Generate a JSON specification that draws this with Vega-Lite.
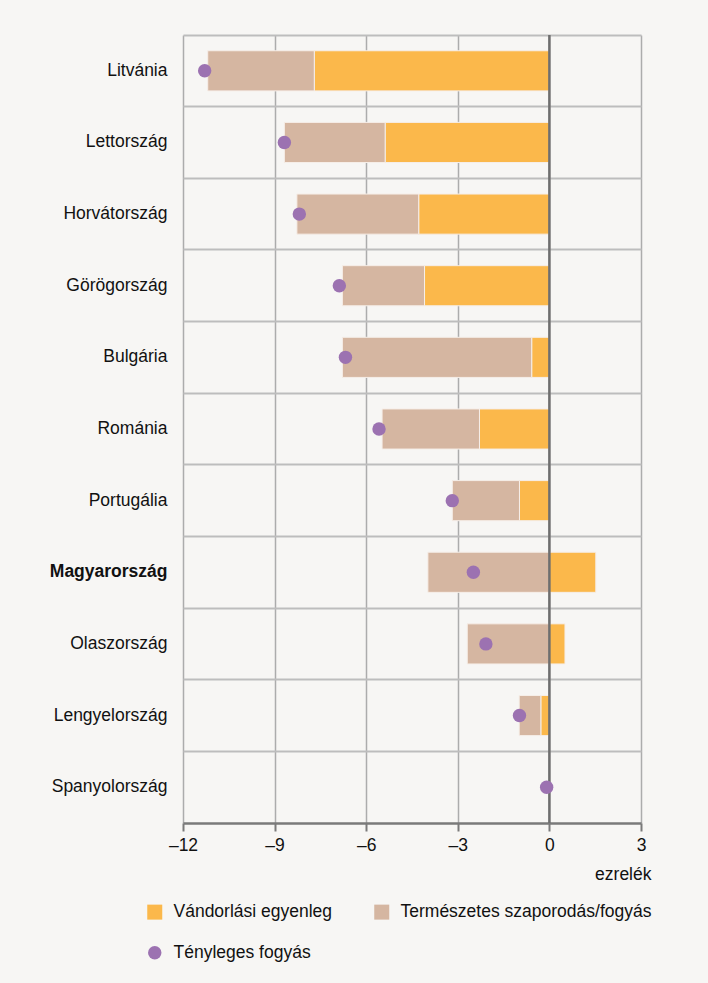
{
  "$schema": "https://vega.github.io/schema/vega-lite/v6.json",
  "width": 458,
  "height": 788,
  "autosize": {"type": "none"},
  "padding": {"left": 183, "top": 35, "right": 67, "bottom": 160},
  "background": "#f7f6f4",
  "config": {
    "view": {"stroke": null},
    "font": "Liberation Sans",
    "text": {"font": "Liberation Sans"}
  },
  "datasets": {
    "bars": [
      {"country": "Litvánia", "type": "Vándorlási egyenleg", "ord": 1, "value": -7.70},
      {"country": "Litvánia", "type": "Természetes szaporodás/fogyás", "ord": 2, "value": -3.49},
      {"country": "Lettország", "type": "Vándorlási egyenleg", "ord": 1, "value": -5.38},
      {"country": "Lettország", "type": "Természetes szaporodás/fogyás", "ord": 2, "value": -3.30},
      {"country": "Horvátország", "type": "Vándorlási egyenleg", "ord": 1, "value": -4.28},
      {"country": "Horvátország", "type": "Természetes szaporodás/fogyás", "ord": 2, "value": -3.99},
      {"country": "Görögország", "type": "Vándorlási egyenleg", "ord": 1, "value": -4.09},
      {"country": "Görögország", "type": "Természetes szaporodás/fogyás", "ord": 2, "value": -2.69},
      {"country": "Bulgária", "type": "Vándorlási egyenleg", "ord": 1, "value": -0.58},
      {"country": "Bulgária", "type": "Természetes szaporodás/fogyás", "ord": 2, "value": -6.20},
      {"country": "Románia", "type": "Vándorlási egyenleg", "ord": 1, "value": -2.29},
      {"country": "Románia", "type": "Természetes szaporodás/fogyás", "ord": 2, "value": -3.19},
      {"country": "Portugália", "type": "Vándorlási egyenleg", "ord": 1, "value": -0.98},
      {"country": "Portugália", "type": "Természetes szaporodás/fogyás", "ord": 2, "value": -2.20},
      {"country": "Magyarország", "type": "Vándorlási egyenleg", "ord": 1, "value": 1.52},
      {"country": "Magyarország", "type": "Természetes szaporodás/fogyás", "ord": 2, "value": -3.98},
      {"country": "Olaszország", "type": "Vándorlási egyenleg", "ord": 1, "value": 0.51},
      {"country": "Olaszország", "type": "Természetes szaporodás/fogyás", "ord": 2, "value": -2.69},
      {"country": "Lengyelország", "type": "Vándorlási egyenleg", "ord": 1, "value": -0.28},
      {"country": "Lengyelország", "type": "Természetes szaporodás/fogyás", "ord": 2, "value": -0.71}
    ],
    "dots": [
      {"country": "Litvánia", "type": "Tényleges fogyás", "value": -11.29},
      {"country": "Lettország", "type": "Tényleges fogyás", "value": -8.68},
      {"country": "Horvátország", "type": "Tényleges fogyás", "value": -8.19},
      {"country": "Görögország", "type": "Tényleges fogyás", "value": -6.88},
      {"country": "Bulgária", "type": "Tényleges fogyás", "value": -6.68},
      {"country": "Románia", "type": "Tényleges fogyás", "value": -5.58},
      {"country": "Portugália", "type": "Tényleges fogyás", "value": -3.18},
      {"country": "Magyarország", "type": "Tényleges fogyás", "value": -2.49},
      {"country": "Olaszország", "type": "Tényleges fogyás", "value": -2.08},
      {"country": "Lengyelország", "type": "Tényleges fogyás", "value": -0.98},
      {"country": "Spanyolország", "type": "Tényleges fogyás", "value": -0.09}
    ]
  },
  "layer": [
    {
      "data": {"name": "bars"},
      "mark": {"type": "bar", "height": {"band": 0.56}, "stroke": "#f6eee8", "strokeWidth": 1},
      "encoding": {
        "y": {
          "field": "country",
          "type": "nominal",
          "sort": null,
          "scale": {
            "domain": ["Litvánia", "Lettország", "Horvátország", "Görögország", "Bulgária", "Románia", "Portugália", "Magyarország", "Olaszország", "Lengyelország", "Spanyolország"],
            "paddingInner": 0,
            "paddingOuter": 0
          },
          "axis": {
            "title": null,
            "domain": false,
            "ticks": false,
            "grid": true,
            "gridColor": "#bdbdbd",
            "gridWidth": 2,
            "bandPosition": 0,
            "labelPadding": 16,
            "labelFontSize": 17.5,
            "labelColor": "#111111",
            "labelFont": "Liberation Sans",
            "labelFontWeight": {"condition": {"test": "datum.label === 'Magyarország'", "value": "bold"}, "value": "normal"}
          }
        },
        "x": {
          "field": "value",
          "type": "quantitative",
          "stack": "zero",
          "scale": {"domain": [-12, 3], "nice": false, "zero": false},
          "axis": {
            "values": [-12, -9, -6, -3, 0, 3],
            "grid": true,
            "gridColor": "#acacac",
            "gridWidth": 1.5,
            "domainColor": "#7a7a7a",
            "domainWidth": 2.5,
            "tickColor": "#7a7a7a",
            "tickWidth": 2,
            "tickSize": 8,
            "labelFontSize": 17.5,
            "labelFont": "Liberation Sans",
            "labelColor": "#111111",
            "labelPadding": 5,
            "labelFlush": false,
            "labelExpr": "datum.value < 0 ? '–' + abs(datum.value) : '' + datum.value",
            "title": "ezrelék",
            "titleFont": "Liberation Sans",
            "titleFontSize": 17.5,
            "titleFontWeight": "normal",
            "titleColor": "#111111",
            "titleAnchor": "end",
            "titleAlign": "right",
            "titleX": 468,
            "titleY": 56,
            "titleBaseline": "alphabetic"
          }
        },
        "color": {
          "field": "type",
          "type": "nominal",
          "scale": {
            "domain": ["Vándorlási egyenleg", "Természetes szaporodás/fogyás"],
            "range": ["#fbb84b", "#d5b6a1"]
          },
          "legend": {
            "title": null,
            "orient": "none",
            "legendX": -37,
            "legendY": 868,
            "columns": 2,
            "direction": "horizontal",
            "padding": 0,
            "columnPadding": 40,
            "labelFontSize": 17.5,
            "labelFont": "Liberation Sans",
            "labelColor": "#111111",
            "labelOffset": 10,
            "labelLimit": 400,
            "symbolType": "square",
            "symbolSize": 225,
            "symbolStrokeWidth": 0,
            "symbolOpacity": 1
          }
        },
        "order": {"field": "ord", "type": "quantitative"}
      }
    },
    {
      "data": {"values": [{"z": 0}]},
      "mark": {"type": "rule", "color": "#6e6e6e", "strokeWidth": 2.5},
      "encoding": {"x": {"field": "z", "type": "quantitative"}}
    },
    {
      "data": {"name": "dots"},
      "mark": {"type": "point", "filled": true, "size": 180, "opacity": 1, "color": "#9c72b1"},
      "encoding": {
        "y": {"field": "country", "type": "nominal", "sort": null},
        "x": {"field": "value", "type": "quantitative"},
        "shape": {
          "field": "type",
          "type": "nominal",
          "scale": {"domain": ["Tényleges fogyás"], "range": ["circle"]},
          "legend": {
            "title": null,
            "orient": "none",
            "legendX": -37,
            "legendY": 909,
            "padding": 0,
            "labelFontSize": 17.5,
            "labelFont": "Liberation Sans",
            "labelColor": "#111111",
            "labelOffset": 10,
            "labelLimit": 400,
            "symbolSize": 180,
            "symbolFillColor": "#9c72b1",
            "symbolStrokeWidth": 0,
            "symbolOpacity": 1
          }
        }
      }
    }
  ]
}
